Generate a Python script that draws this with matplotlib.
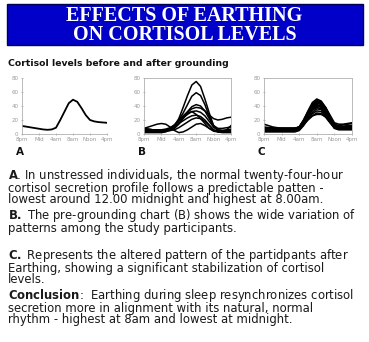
import matplotlib
matplotlib.use("Agg")
import matplotlib.pyplot as plt
from matplotlib.patches import Rectangle

W, H = 369, 342  # output size in pixels

# ---- data (cortisol) ----
hours = list(range(21))                      # 0 = 8pm ... 20 = 4pm
tick_hours = [0, 4, 8, 12, 16, 20]
tick_labels = ["8pm", "Mid", "4am", "8am", "Noon", "4pm"]
y_ticks = [0, 20, 40, 60, 80]

# A: normal profile
curve_a = [11.5, 10.5, 9.5, 8.5, 7.5, 6.5, 6, 6.5, 9, 20, 32, 44, 49, 46, 37, 27, 20, 18, 17, 16.5, 16]

# B: before grounding
curves_b = [
    [3, 3, 3, 3, 3, 4, 6, 12, 22, 38, 55, 70, 75, 68, 50, 30, 12, 6, 5, 5, 5],
    [5, 5, 4, 4, 4, 5, 7, 12, 20, 30, 42, 54, 59, 55, 42, 25, 10, 5, 4, 4, 4],
    [8, 7, 6, 5, 5, 6, 8, 12, 18, 25, 32, 39, 42, 40, 33, 22, 12, 8, 8, 9, 10],
    [4, 4, 4, 4, 4, 5, 8, 13, 20, 26, 31, 36, 38, 37, 33, 27, 22, 20, 21, 23, 24],
    [6, 6, 6, 6, 6, 7, 9, 13, 18, 23, 28, 32, 33, 31, 26, 18, 10, 6, 5, 6, 7],
    [2, 2, 2, 2, 2, 3, 6, 10, 15, 19, 23, 26, 27, 25, 20, 13, 6, 3, 2, 2, 2],
    [7, 7, 6, 6, 5, 5, 5, 6, 9, 13, 17, 21, 23, 22, 18, 12, 6, 3, 3, 6, 12],
    [3, 3, 3, 3, 3, 4, 5, 8, 14, 22, 30, 32, 28, 22, 15, 8, 4, 3, 3, 3, 3],
    [8, 10, 12, 14, 15, 14, 10, 5, 2, 3, 6, 10, 14, 15, 12, 8, 5, 4, 4, 5, 6],
]

# C: after grounding
curves_c = [
    [14, 12, 10, 9, 8, 8, 8, 8, 10, 20, 33, 45, 50, 47, 38, 25, 14, 12, 13, 14, 15],
    [8, 8, 8, 8, 8, 8, 8, 8, 9, 18, 30, 42, 48, 46, 37, 24, 13, 11, 11, 12, 12],
    [6, 6, 6, 6, 6, 6, 6, 6, 8, 16, 28, 40, 46, 44, 35, 22, 11, 9, 9, 9, 9],
    [5, 5, 5, 5, 5, 5, 5, 5, 7, 15, 27, 38, 44, 42, 33, 20, 10, 8, 8, 8, 8],
    [10, 9, 8, 8, 8, 8, 8, 8, 10, 18, 29, 38, 42, 40, 32, 21, 12, 10, 10, 10, 10],
    [4, 4, 4, 4, 4, 4, 4, 4, 6, 14, 25, 35, 40, 38, 30, 18, 9, 7, 7, 7, 7],
    [7, 7, 7, 7, 7, 7, 7, 7, 9, 16, 26, 34, 38, 36, 29, 19, 11, 9, 9, 9, 10],
    [3, 3, 3, 3, 3, 3, 3, 3, 5, 12, 22, 31, 36, 35, 28, 17, 8, 6, 6, 6, 6],
    [6, 6, 6, 6, 6, 6, 6, 6, 8, 14, 22, 29, 33, 32, 26, 17, 10, 8, 8, 8, 8],
    [5, 5, 5, 5, 5, 5, 5, 5, 7, 13, 20, 26, 30, 29, 24, 16, 9, 7, 7, 7, 7],
    [9, 9, 9, 8, 8, 8, 8, 8, 10, 15, 21, 26, 28, 28, 25, 18, 12, 10, 10, 11, 12],
    [8, 8, 8, 8, 8, 8, 8, 8, 10, 20, 32, 43, 47, 45, 38, 27, 16, 14, 14, 15, 16],
    [6, 6, 6, 6, 6, 6, 6, 6, 7, 17, 29, 40, 45, 44, 36, 23, 12, 10, 10, 10, 10],
    [4, 4, 4, 4, 4, 4, 4, 4, 6, 15, 27, 37, 41, 40, 31, 19, 9, 7, 7, 7, 7],
]

title = "EFFECTS OF EARTHING\nON CORTISOL LEVELS"
subtitle = "Cortisol levels before and after grounding"
# one text per paragraph; the bold lead-in is mathtext bold (DejaVu Sans Bold)
paragraphs = [
    r"$\mathbf{A}$. In unstressed individuals, the normal twenty-four-hour" "\n"
    "cortisol secretion profile follows a predictable patten -\n"
    "lowest around 12.00 midnight and highest at 8.00am.",
    r"$\mathbf{B.}$ The pre-grounding chart (B) shows the wide variation of" "\n"
    "patterns among the study participants.",
    r"$\mathbf{C.}$ Represents the altered pattern of the partidpants after" "\n"
    "Earthing, showing a significant stabilization of cortisol\n"
    "levels.",
    r"$\mathbf{Conclusion}$:  Earthing during sleep resynchronizes cortisol" "\n"
    "secretion more in alignment with its natural, normal\n"
    "rhythm - highest at 8am and lowest at midnight.",
]
para_y = [203, 232, 283, 323]  # last-line baselines, px

BODY = "DejaVu Sans"
plt.rcParams["mathtext.fontset"] = "dejavusans"

fig = plt.figure(figsize=(W / 100, H / 100), dpi=100)
fig.patch.set_facecolor("white")


def fx(x):
    return x / W


def fy(y):
    return 1 - y / H


def box(left, top, right, bottom):
    return [fx(left), fy(bottom), (right - left) / W, (bottom - top) / H]


# blue banner
fig.patches.append(Rectangle((fx(7), fy(45)), (363 - 7) / W, (45 - 4) / H,
                             transform=fig.transFigure, facecolor="#0000c8",
                             edgecolor="#000050", linewidth=1))
fig.text(0.5, fy(25.5), title, ha="center", va="center", ma="center", color="white",
         family="Liberation Serif", fontweight="bold", fontsize=14.5, linespacing=0.92)

fig.text(fx(8), fy(64), subtitle, ha="left", va="center", family="DejaVu Sans",
         fontweight="bold", fontsize=6.65, color="#111111")


def panel(rect, curves, letter, lx, frame, lw):
    ax = fig.add_axes(rect)
    for c in curves:
        ax.plot(hours, c, color="black", lw=lw, solid_joinstyle="round")
    ax.set_xlim(0, 20)
    ax.set_ylim(0, 80)
    ax.set_xticks(tick_hours, tick_labels)
    ax.set_yticks(y_ticks)
    ax.tick_params(labelsize=4, colors="#9a9a9a", length=2, width=0.5, pad=1.5,
                   direction="inout")
    for s in ax.spines.values():
        s.set_color("#b0b0b0")
        s.set_linewidth(0.6)
    if not frame:
        ax.spines["top"].set_visible(False)
        ax.spines["right"].set_visible(False)
    fig.text(fx(lx), fy(152), letter, ha="left", va="center", family="DejaVu Sans",
             fontweight="bold", fontsize=7.5, color="#111111")
    return ax


panel(box(22, 78, 107, 134), [curve_a], "A", 16, False, 1.3)
panel(box(144, 78, 231, 134), curves_b, "B", 138, True, 1.1)
panel(box(264, 78, 352, 134), curves_c, "C", 258, True, 1.15)

# body text
for txt, y in zip(paragraphs, para_y):
    fig.text(fx(8), fy(y), txt, ha="left", va="baseline", family=BODY,
             fontsize=8.4, color="#1a1a1a", linespacing=0.82)

fig.savefig("out.png", dpi=100)
